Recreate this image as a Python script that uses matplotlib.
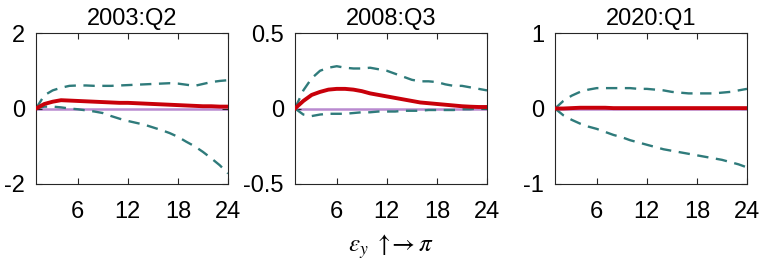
import numpy as np
import matplotlib.pyplot as plt

plt.rcParams['font.family'] = ['Liberation Sans', 'DejaVu Sans']
plt.rcParams['mathtext.fontset'] = 'stix'

# horizons
h = list(range(1, 25))

titles = ['2003:Q2', '2008:Q3', '2020:Q1']
ylims = [(-2, 2), (-0.5, 0.5), (-1, 1)]
yticks = [[-2, 0, 2], [-0.5, 0, 0.5], [-1, 0, 1]]
yticklabels = [['-2', '0', '2'], ['-0.5', '0', '0.5'], ['-1', '0', '1']]

# 2003:Q2
med_1 = [0.0, 0.12, 0.18, 0.22, 0.21, 0.2, 0.19, 0.18, 0.17, 0.16, 0.15, 0.15,
         0.14, 0.13, 0.12, 0.11, 0.1, 0.09, 0.08, 0.07, 0.06, 0.06, 0.05, 0.05]
up_1 = [0.0, 0.35, 0.48, 0.55, 0.6, 0.61, 0.61, 0.6, 0.6, 0.6, 0.61, 0.62,
        0.63, 0.64, 0.65, 0.66, 0.67, 0.66, 0.63, 0.6, 0.65, 0.7, 0.73, 0.75]
lo_1 = [0.0, 0.05, 0.05, 0.03, 0.0, -0.02, -0.05, -0.08, -0.12, -0.2, -0.27, -0.33,
        -0.38, -0.43, -0.5, -0.57, -0.65, -0.75, -0.88, -1.0, -1.15, -1.32, -1.5, -1.72]

# 2008:Q3
med_2 = [0.0, 0.05, 0.09, 0.11, 0.125, 0.13, 0.13, 0.125, 0.115, 0.1, 0.09, 0.08,
         0.07, 0.06, 0.05, 0.04, 0.035, 0.03, 0.025, 0.02, 0.015, 0.012, 0.01, 0.01]
up_2 = [0.0, 0.12, 0.2, 0.25, 0.27, 0.28, 0.27, 0.265, 0.265, 0.27, 0.26, 0.25,
        0.23, 0.21, 0.19, 0.18, 0.18, 0.175, 0.16, 0.15, 0.15, 0.14, 0.13, 0.12]
lo_2 = [0.0, -0.04, -0.05, -0.04, -0.035, -0.035, -0.035, -0.03, -0.025, -0.025, -0.02, -0.02,
        -0.02, -0.015, -0.015, -0.015, -0.01, -0.01, -0.01, -0.01, -0.005, -0.005, 0.0, 0.0]

# 2020:Q1
med_3 = [0.0, 0.0, 0.005, 0.01, 0.01, 0.01, 0.01, 0.005, 0.005, 0.005, 0.005, 0.005,
         0.005, 0.005, 0.005, 0.005, 0.005, 0.005, 0.005, 0.005, 0.005, 0.005, 0.005, 0.005]
up_3 = [0.0, 0.1, 0.17, 0.22, 0.25, 0.27, 0.27, 0.27, 0.27, 0.27, 0.26, 0.26,
        0.25, 0.24, 0.22, 0.21, 0.2, 0.2, 0.2, 0.2, 0.21, 0.22, 0.24, 0.26]
lo_3 = [0.0, -0.09, -0.15, -0.2, -0.24, -0.27, -0.31, -0.35, -0.38, -0.42, -0.45, -0.48,
        -0.51, -0.54, -0.56, -0.58, -0.6, -0.62, -0.64, -0.66, -0.68, -0.71, -0.74, -0.78]

meds = [med_1, med_2, med_3]
ups = [up_1, up_2, up_3]
los = [lo_1, lo_2, lo_3]

fig = plt.figure(figsize=(7.65, 2.66), dpi=100)
lefts = [36, 295, 555]

for i in range(3):
    ax = fig.add_axes([lefts[i] / 765, 1 - 184 / 266, 192 / 765, 151 / 266])
    ax.axhline(0, color='#b98ad0', lw=1.8, zorder=1)
    ax.plot(h, ups[i], '--', color='#2f7b7b', lw=1.7, dashes=(4.8, 3.2), zorder=2)
    ax.plot(h, los[i], '--', color='#2f7b7b', lw=1.7, dashes=(4.8, 3.2), zorder=2)
    ax.plot(h, meds[i], color='#c8000a', lw=2.8, zorder=3)
    ax.set_xlim(1, 24)
    ax.set_ylim(*ylims[i])
    ax.set_xticks([6, 12, 18, 24])
    ax.set_yticks(yticks[i])
    ax.set_yticklabels(yticklabels[i])
    ax.set_title(titles[i], fontsize=17, pad=6, color='black')
    ax.tick_params(direction='in', top=True, right=True, labelsize=17,
                   length=4, width=0.8, pad=12, colors='#262626', labelcolor='black')
    ax.tick_params(axis='y', pad=8)
    for s in ax.spines.values():
        s.set_linewidth(0.8)
        s.set_color('#262626')

fig.text(391 / 765, 1 - 247 / 266, r'$\varepsilon_y\ \uparrow\!\!\rightarrow\pi$',
         ha='center', va='center', fontsize=18)

fig.savefig('out.png', dpi=100)
